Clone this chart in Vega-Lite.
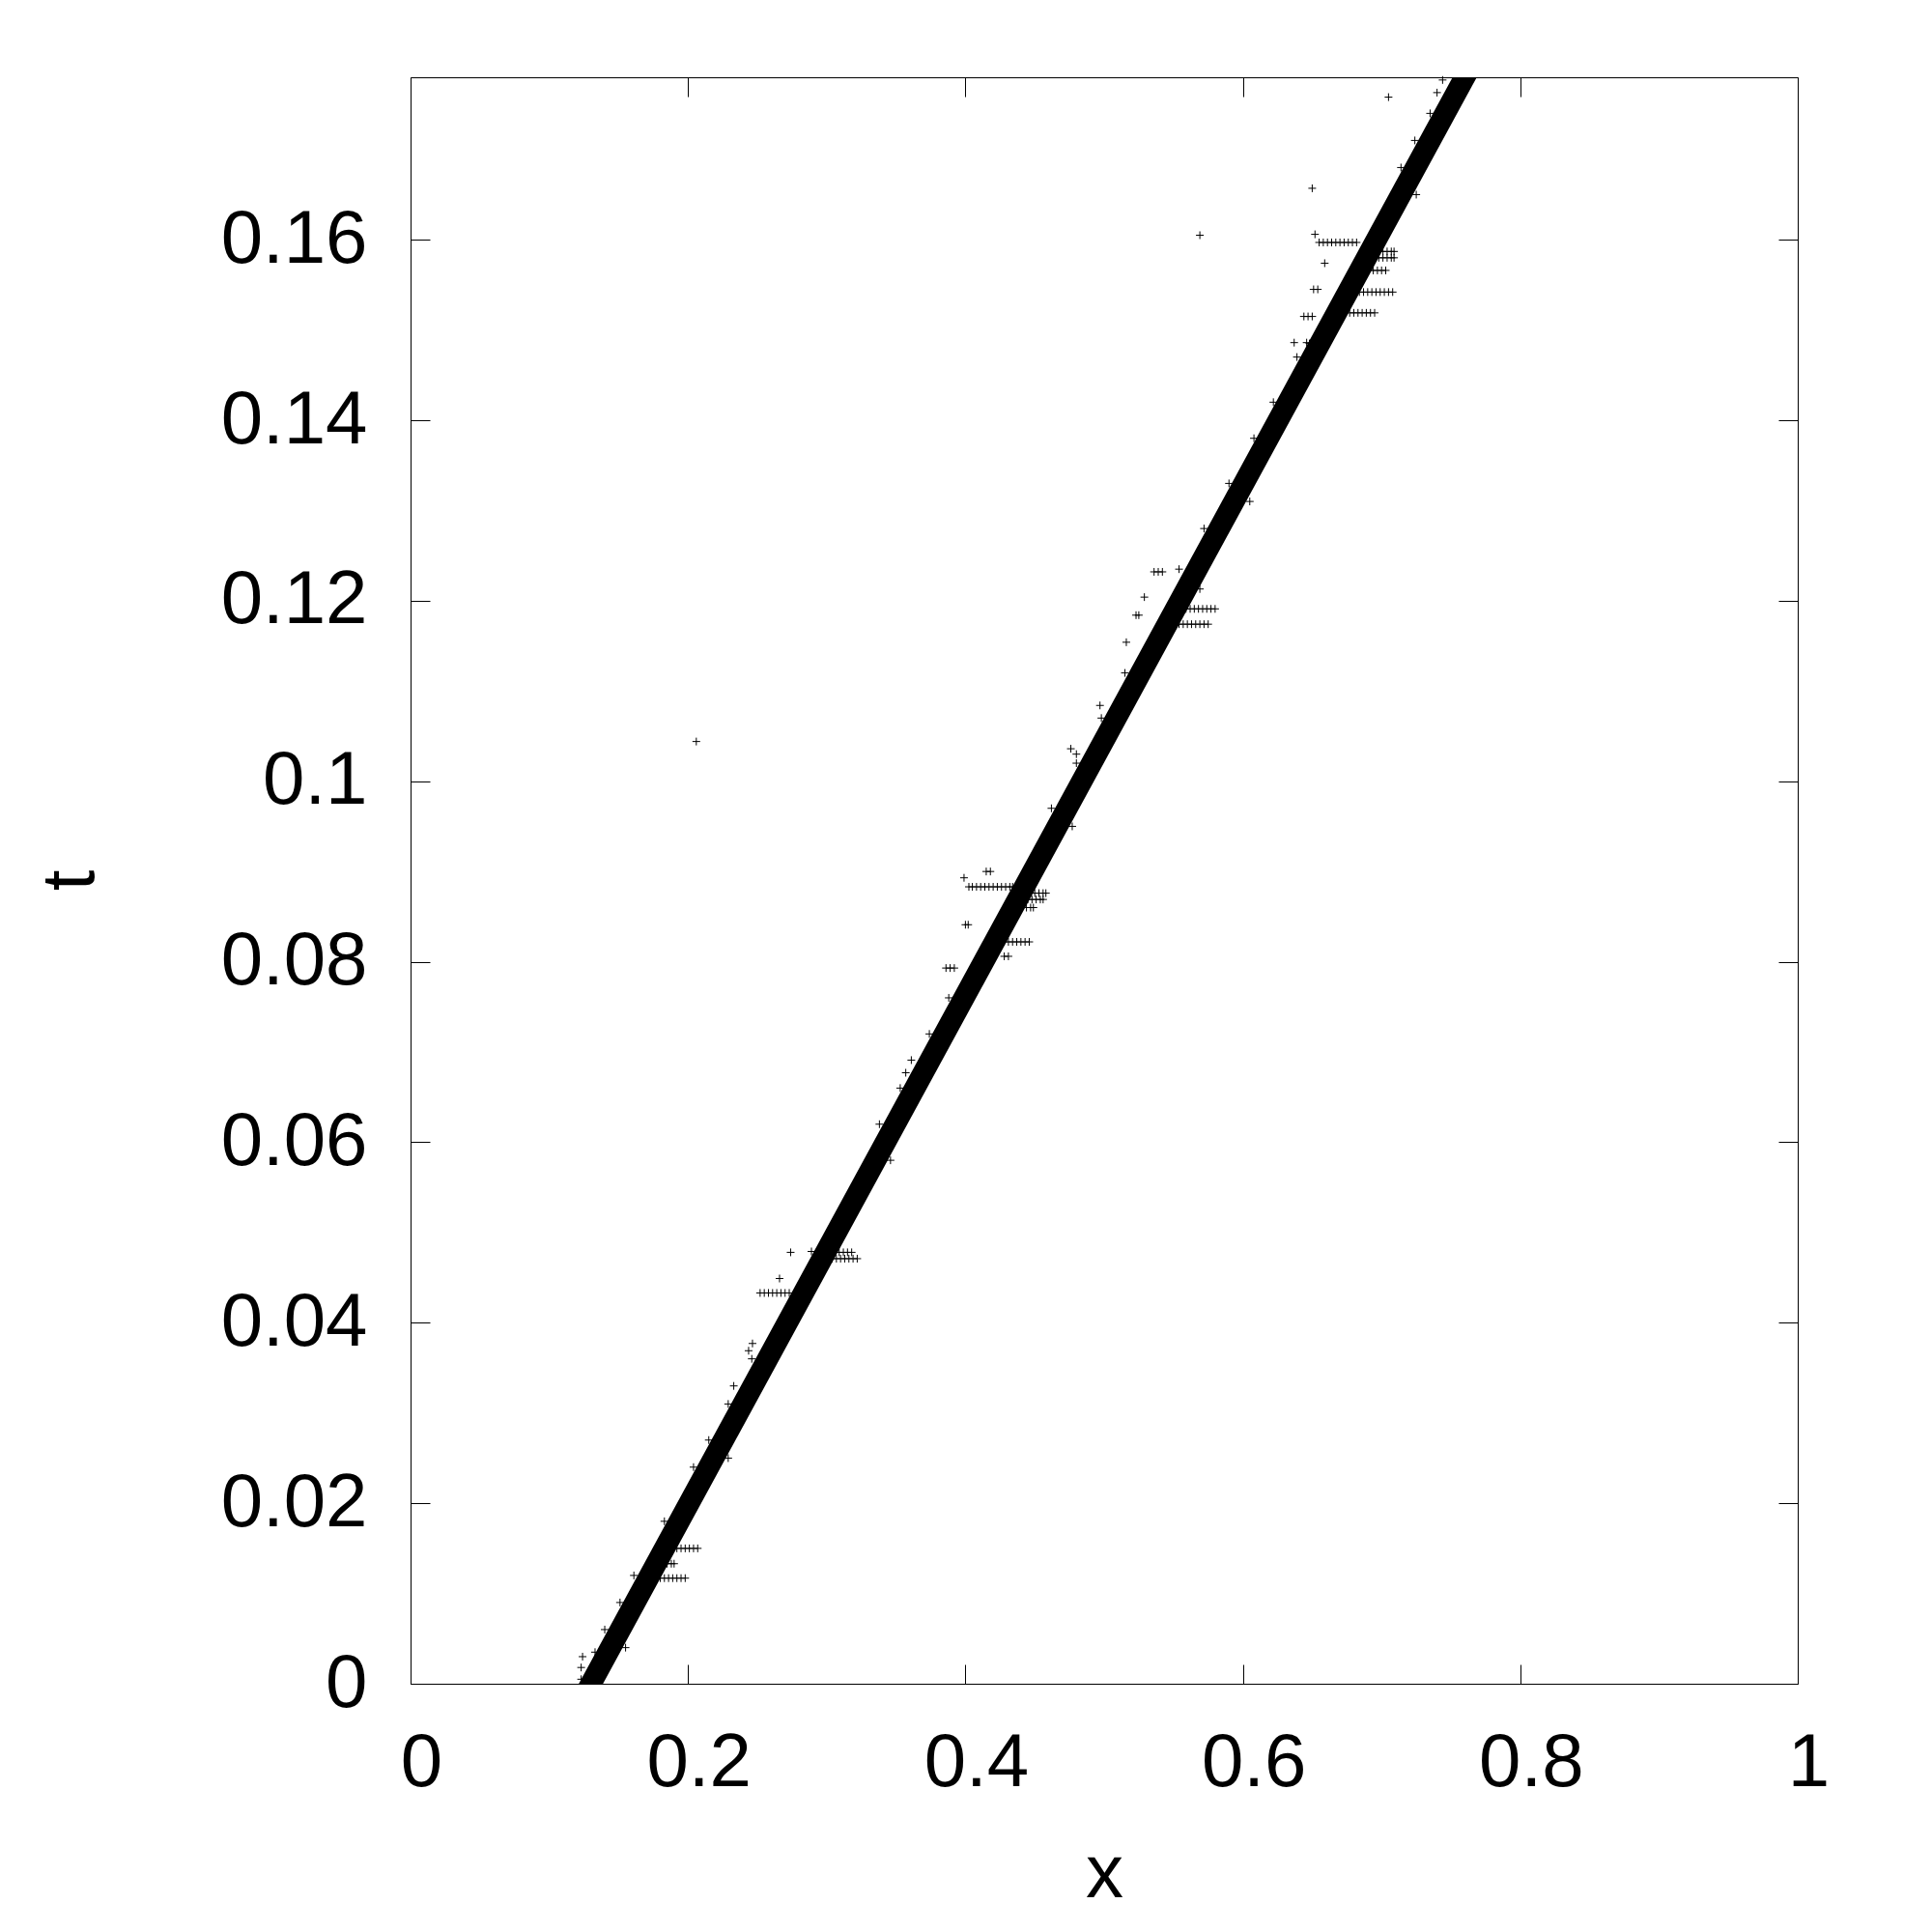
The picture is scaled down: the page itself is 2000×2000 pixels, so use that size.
{
  "$schema": "https://vega.github.io/schema/vega-lite/v6.json",
  "autosize": {"type": "none"},
  "padding": {"left": 425, "top": 80, "right": 139, "bottom": 257},
  "width": 1436,
  "height": 1663,
  "background": "white",
  "config": {
    "view": {"stroke": "black", "strokeWidth": 1},
    "axis": {
      "labelFont": "Liberation Sans",
      "titleFont": "Liberation Sans",
      "labelFontSize": 78,
      "titleFontSize": 78,
      "labelColor": "black",
      "titleColor": "black",
      "titleFontWeight": "normal",
      "tickColor": "black",
      "tickWidth": 1,
      "tickSize": -20,
      "domain": false,
      "grid": false
    }
  },
  "datasets": {
    "band": [
      {"x": 0.1194, "t": -0.003},
      {"x": 0.130, "t": 0.0},
      {"x": 0.4556, "t": 0.0920},
      {"x": 0.7677, "t": 0.1802}
    ],
    "pts": [
      {"x": 0.123, "t": 0.0005}, {"x": 0.123, "t": 0.0018}, {"x": 0.124, "t": 0.0030}, {"x": 0.128, "t": 0.0004}, {"x": 0.132, "t": 0.0004}, {"x": 0.136, "t": 0.0008}, {"x": 0.133, "t": 0.0035},
      {"x": 0.180, "t": 0.0117}, {"x": 0.183, "t": 0.0117}, {"x": 0.186, "t": 0.0117}, {"x": 0.189, "t": 0.0117}, {"x": 0.192, "t": 0.0117}, {"x": 0.195, "t": 0.0117}, {"x": 0.198, "t": 0.0117},
      {"x": 0.189, "t": 0.0150}, {"x": 0.192, "t": 0.0150}, {"x": 0.195, "t": 0.0150}, {"x": 0.198, "t": 0.0150}, {"x": 0.201, "t": 0.0150}, {"x": 0.204, "t": 0.0150}, {"x": 0.207, "t": 0.0150},
      {"x": 0.182, "t": 0.0133}, {"x": 0.185, "t": 0.0133}, {"x": 0.188, "t": 0.0133}, {"x": 0.190, "t": 0.0133},
      {"x": 0.252, "t": 0.0433}, {"x": 0.255, "t": 0.0433}, {"x": 0.258, "t": 0.0433}, {"x": 0.261, "t": 0.0433}, {"x": 0.264, "t": 0.0433}, {"x": 0.267, "t": 0.0433}, {"x": 0.270, "t": 0.0433}, {"x": 0.273, "t": 0.0433},
      {"x": 0.304, "t": 0.0471}, {"x": 0.307, "t": 0.0471}, {"x": 0.310, "t": 0.0471}, {"x": 0.313, "t": 0.0471}, {"x": 0.316, "t": 0.0471}, {"x": 0.319, "t": 0.0471}, {"x": 0.322, "t": 0.0471},
      {"x": 0.306, "t": 0.0478}, {"x": 0.309, "t": 0.0478}, {"x": 0.312, "t": 0.0478}, {"x": 0.315, "t": 0.0478}, {"x": 0.318, "t": 0.0478},
      {"x": 0.4025, "t": 0.0883}, {"x": 0.405, "t": 0.0883}, {"x": 0.408, "t": 0.0883}, {"x": 0.411, "t": 0.0883}, {"x": 0.414, "t": 0.0883}, {"x": 0.417, "t": 0.0883}, {"x": 0.420, "t": 0.0883}, {"x": 0.423, "t": 0.0883}, {"x": 0.426, "t": 0.0883}, {"x": 0.429, "t": 0.0883}, {"x": 0.432, "t": 0.0883}, {"x": 0.434, "t": 0.0883},
      {"x": 0.447, "t": 0.0876}, {"x": 0.450, "t": 0.0876}, {"x": 0.453, "t": 0.0876}, {"x": 0.456, "t": 0.0876}, {"x": 0.458, "t": 0.0876},
      {"x": 0.445, "t": 0.0869}, {"x": 0.448, "t": 0.0869}, {"x": 0.451, "t": 0.0869}, {"x": 0.454, "t": 0.0869}, {"x": 0.456, "t": 0.0869},
      {"x": 0.428, "t": 0.0822}, {"x": 0.431, "t": 0.0822}, {"x": 0.434, "t": 0.0822}, {"x": 0.437, "t": 0.0822}, {"x": 0.440, "t": 0.0822}, {"x": 0.443, "t": 0.0822}, {"x": 0.446, "t": 0.0822},
      {"x": 0.444, "t": 0.0860}, {"x": 0.447, "t": 0.0860}, {"x": 0.449, "t": 0.0860},
      {"x": 0.559, "t": 0.1191}, {"x": 0.562, "t": 0.1191}, {"x": 0.565, "t": 0.1191}, {"x": 0.568, "t": 0.1191}, {"x": 0.571, "t": 0.1191}, {"x": 0.574, "t": 0.1191}, {"x": 0.577, "t": 0.1191}, {"x": 0.580, "t": 0.1191},
      {"x": 0.554, "t": 0.1174}, {"x": 0.557, "t": 0.1174}, {"x": 0.560, "t": 0.1174}, {"x": 0.563, "t": 0.1174}, {"x": 0.566, "t": 0.1174}, {"x": 0.569, "t": 0.1174}, {"x": 0.572, "t": 0.1174}, {"x": 0.575, "t": 0.1174},
      {"x": 0.655, "t": 0.1597}, {"x": 0.658, "t": 0.1597}, {"x": 0.661, "t": 0.1597}, {"x": 0.664, "t": 0.1597}, {"x": 0.667, "t": 0.1597}, {"x": 0.670, "t": 0.1597}, {"x": 0.673, "t": 0.1597}, {"x": 0.676, "t": 0.1597}, {"x": 0.679, "t": 0.1597}, {"x": 0.682, "t": 0.1597},
      {"x": 0.698, "t": 0.1587}, {"x": 0.701, "t": 0.1587}, {"x": 0.704, "t": 0.1587}, {"x": 0.707, "t": 0.1587}, {"x": 0.709, "t": 0.1587},
      {"x": 0.698, "t": 0.1580}, {"x": 0.701, "t": 0.1580}, {"x": 0.704, "t": 0.1580}, {"x": 0.707, "t": 0.1580}, {"x": 0.709, "t": 0.1580},
      {"x": 0.691, "t": 0.1566}, {"x": 0.694, "t": 0.1566}, {"x": 0.697, "t": 0.1566}, {"x": 0.700, "t": 0.1566}, {"x": 0.703, "t": 0.1566},
      {"x": 0.684, "t": 0.1542}, {"x": 0.687, "t": 0.1542}, {"x": 0.690, "t": 0.1542}, {"x": 0.693, "t": 0.1542}, {"x": 0.696, "t": 0.1542}, {"x": 0.699, "t": 0.1542}, {"x": 0.702, "t": 0.1542}, {"x": 0.705, "t": 0.1542}, {"x": 0.708, "t": 0.1542},
      {"x": 0.677, "t": 0.1519}, {"x": 0.680, "t": 0.1519}, {"x": 0.683, "t": 0.1519}, {"x": 0.686, "t": 0.1519}, {"x": 0.689, "t": 0.1519}, {"x": 0.692, "t": 0.1519}, {"x": 0.695, "t": 0.1519},
      {"x": 0.206, "t": 0.1044}, {"x": 0.569, "t": 0.1605}, {"x": 0.650, "t": 0.1657}, {"x": 0.705, "t": 0.1758},
      {"x": 0.652, "t": 0.1606}, {"x": 0.659, "t": 0.1574}, {"x": 0.651, "t": 0.1545}, {"x": 0.654, "t": 0.1545},
      {"x": 0.644, "t": 0.1515}, {"x": 0.647, "t": 0.1515}, {"x": 0.650, "t": 0.1515}, {"x": 0.637, "t": 0.1486}, {"x": 0.646, "t": 0.1486}, {"x": 0.648, "t": 0.1485},
      {"x": 0.399, "t": 0.0893}, {"x": 0.415, "t": 0.0900}, {"x": 0.418, "t": 0.0900}, {"x": 0.400, "t": 0.0841}, {"x": 0.402, "t": 0.0841},
      {"x": 0.428, "t": 0.0806}, {"x": 0.431, "t": 0.0806}, {"x": 0.386, "t": 0.0793}, {"x": 0.389, "t": 0.0793}, {"x": 0.392, "t": 0.0793},
      {"x": 0.536, "t": 0.1232}, {"x": 0.539, "t": 0.1232}, {"x": 0.542, "t": 0.1232}, {"x": 0.554, "t": 0.1235}, {"x": 0.529, "t": 0.1204},
      {"x": 0.523, "t": 0.1184}, {"x": 0.525, "t": 0.1184}, {"x": 0.516, "t": 0.1154}, {"x": 0.569, "t": 0.1213},
      {"x": 0.274, "t": 0.0478}, {"x": 0.266, "t": 0.0449}, {"x": 0.2465, "t": 0.0377}, {"x": 0.2437, "t": 0.0369}, {"x": 0.289, "t": 0.0479},
      {"x": 0.233, "t": 0.0330}, {"x": 0.361, "t": 0.0691}, {"x": 0.357, "t": 0.0677}, {"x": 0.476, "t": 0.1036}, {"x": 0.480, "t": 0.1030},
      {"x": 0.497, "t": 0.1084}, {"x": 0.608, "t": 0.1380}, {"x": 0.168, "t": 0.0104}, {"x": 0.160, "t": 0.0085},
      {"x": 0.744, "t": 0.1777}, {"x": 0.740, "t": 0.1763}, {"x": 0.735, "t": 0.1740},
      {"x": 0.140, "t": 0.0060}, {"x": 0.151, "t": 0.0090}, {"x": 0.161, "t": 0.0120}, {"x": 0.183, "t": 0.0180}, {"x": 0.204, "t": 0.0240},
      {"x": 0.215, "t": 0.0270}, {"x": 0.229, "t": 0.0310}, {"x": 0.246, "t": 0.0360}, {"x": 0.338, "t": 0.0620}, {"x": 0.353, "t": 0.0660},
      {"x": 0.374, "t": 0.0720}, {"x": 0.388, "t": 0.0760}, {"x": 0.462, "t": 0.0970}, {"x": 0.480, "t": 0.1020}, {"x": 0.498, "t": 0.1070},
      {"x": 0.515, "t": 0.1120}, {"x": 0.572, "t": 0.1280}, {"x": 0.590, "t": 0.1330}, {"x": 0.622, "t": 0.1420}, {"x": 0.639, "t": 0.1470},
      {"x": 0.714, "t": 0.1680}, {"x": 0.724, "t": 0.1710},
      {"x": 0.155, "t": 0.0040}, {"x": 0.229, "t": 0.0250}, {"x": 0.346, "t": 0.0580}, {"x": 0.477, "t": 0.0950}, {"x": 0.605, "t": 0.1310}, {"x": 0.725, "t": 0.1650}
    ]
  },
  "layer": [
    {
      "data": {"name": "band"},
      "mark": {"type": "line", "color": "black", "strokeWidth": 22, "strokeCap": "butt", "clip": true},
      "encoding": {
        "x": {"field": "x", "type": "quantitative", "scale": {"domain": [0, 1], "nice": false, "zero": false},
          "axis": {"orient": "bottom", "values": [0, 0.2, 0.4, 0.6, 0.8, 1], "format": "~g", "labelPadding": 63, "labelOffset": 11, "labelFlush": false, "title": "x", "titleBaseline": "alphabetic", "titleY": 220, "titleX": 718}},
        "y": {"field": "t", "type": "quantitative", "scale": {"domain": [0, 0.178], "nice": false, "zero": false},
          "axis": {"orient": "left", "values": [0, 0.02, 0.04, 0.06, 0.08, 0.1, 0.12, 0.14, 0.16], "format": "~g", "labelPadding": 65, "labelFlush": false, "title": "t", "titleBaseline": "alphabetic", "titleAngle": -90, "titleX": -329, "titleY": 831, "titleAlign": "center"}}
      }
    },
    {
      "data": {"name": "pts"},
      "mark": {"type": "point", "shape": "M-1,0L1,0M0,-1L0,1", "filled": false, "stroke": "black", "strokeWidth": 1, "size": 64, "opacity": 1},
      "encoding": {
        "x": {"field": "x", "type": "quantitative", "scale": {"domain": [0, 1], "nice": false, "zero": false},
          "axis": {"orient": "top", "values": [0, 0.2, 0.4, 0.6, 0.8, 1], "labels": false, "title": null}},
        "y": {"field": "t", "type": "quantitative", "scale": {"domain": [0, 0.178], "nice": false, "zero": false},
          "axis": {"orient": "right", "values": [0, 0.02, 0.04, 0.06, 0.08, 0.1, 0.12, 0.14, 0.16], "labels": false, "title": null}}
      }
    }
  ],
  "resolve": {"axis": {"x": "independent", "y": "independent"}}
}
